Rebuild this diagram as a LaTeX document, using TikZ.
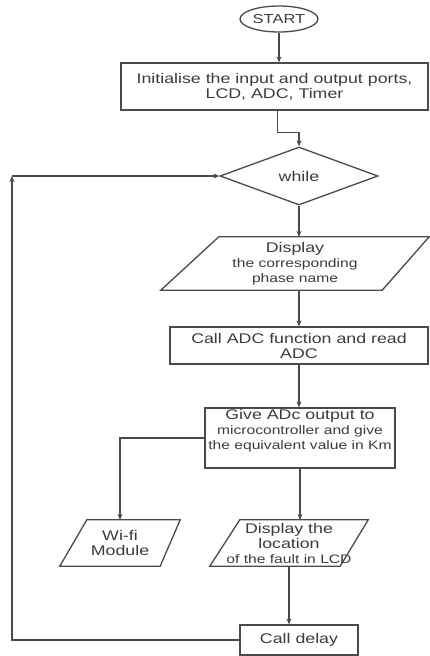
\documentclass[tikz,border=0pt]{standalone}
\usepackage{fontspec}
\setmainfont[FakeStretch=1.27]{Liberation Sans}
\usetikzlibrary{shapes.geometric,arrows.meta}
\definecolor{ln}{HTML}{4A4A4A}
\definecolor{tx}{HTML}{3C3C3C}
\newcommand{\bigf}{\fontsize{14}{15}\selectfont}
\newcommand{\smf}{\fontsize{12.3}{14.5}\selectfont}
\begin{document}
\begin{tikzpicture}[x=1pt,y=-1pt,
 every node/.style={text=tx, inner sep=0pt, align=center, font=\bigf},
 box/.style={draw=ln, line width=1.3pt, rectangle},
 arr/.style={draw=ln, line width=1.3pt, -{Stealth[length=6pt,width=5pt]}},
 para/.style={draw=ln, line width=1.3pt, line join=miter},
]
\useasboundingbox[fill=white] (0,0) rectangle (430,656);
\node[ellipse, draw=ln, line width=1.3pt, minimum width=78pt, minimum height=26pt, font=\fontsize{13}{14}\selectfont] (start) at (279,19) {START};
\node[box, minimum width=307pt, minimum height=47pt] (init) at (274.5,86.5) {Initialise the input and output ports,\\LCD, ADC, Timer};
\node[diamond, draw=ln, line width=1.3pt, minimum width=158pt, minimum height=58pt] (while) at (299,176) {while};
\node[minimum width=268pt, minimum height=53pt] (disp) at (295,263.5) {Display\\{\smf the corresponding}\\{\smf phase name}};
\draw[para] ([xshift=58pt]disp.north west) -- (disp.north east) -- ([xshift=-47pt]disp.south east) -- (disp.south west) -- cycle;
\node[box, minimum width=258pt, minimum height=37pt] (adc) at (299,345.5) {Call ADC function and read\\ADC};
\node[box, minimum width=190pt, minimum height=60pt] (give) at (300,438) {};
\node (givetxt) at (300,431) {Give ADc output to\\{\smf microcontroller and give}\\{\smf the equivalent value in Km}};
\node[minimum width=120pt, minimum height=46pt] (wifi) at (120,543) {Wi-fi\\Module};
\draw[para] ([xshift=27pt]wifi.north west) -- (wifi.north east) -- ([xshift=-20pt]wifi.south east) -- (wifi.south west) -- cycle;
\node[minimum width=158pt, minimum height=46pt] (loc) at (289,543) {Display the\\location\\{\smf of the fault in LCD}};
\draw[para] ([xshift=30pt]loc.north west) -- (loc.north east) -- ([xshift=-28pt]loc.south east) -- (loc.south west) -- cycle;
\node[box, minimum width=118pt, minimum height=30pt] (delay) at (299,640) {Call delay};
\coordinate (lp) at (12,176);
\draw[arr] (start.south) -- (start.south |- init.north);
\draw[arr] ([xshift=3pt]init.south) -- ++(0,22) -| (while.north);
\draw[arr] (while.south) -- (while.south |- disp.north);
\draw[arr] (while.south |- disp.south) -- (while.south |- adc.north);
\draw[arr] (adc.south) -- (adc.south |- give.north);
\draw[arr] (give.west) -| (wifi.north);
\draw[arr] (give.south) -- (give.south |- loc.north);
\draw[arr] (loc.south) -- (loc.south |- delay.north);
\draw[arr] (delay.west) -| (lp);
\draw[arr] (lp) -- (while.west);
\end{tikzpicture}
\end{document}
